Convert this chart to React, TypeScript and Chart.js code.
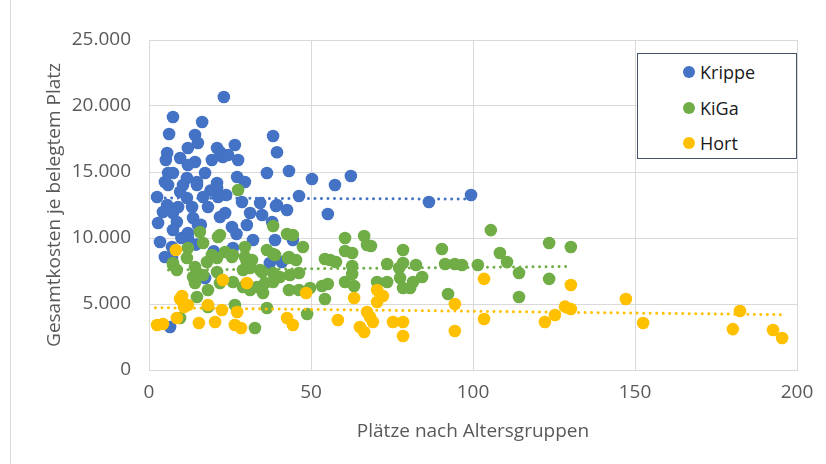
import React, { useEffect, useRef } from "react";
import { Chart, registerables } from "chart.js";

Chart.register(...registerables);

// Krippe [Plätze, Kosten]
const krippeX = [23.1, 7.4, 16.4, 6.2, 14.2, 38.3, 15.1, 12, 21, 26.5, 5.6, 39.5, 21.9, 5.2, 9.6, 22.8, 24.4, 19.4, 27.5, 14.2, 12, 5.9, 7.4, 17.3, 36.4, 43.2, 11.7, 27.2, 62.3, 50.3, 4.9, 14.8, 21, 29.6, 57.4, 5.9, 10.5, 14.8, 21, 2.5, 11.7, 16.7, 21.3, 23.8, 46.3, 99.4, 86.4, 28.7, 34.3, 39.5, 39.2, 5.6, 9, 13.3, 18.2, 42.6, 55.2, 4.3, 7.4, 23.5, 31.2, 34.9, 2.8, 8.6, 13.6, 21.9, 38, 15.1, 25.6, 30.2, 7.4, 12, 12, 3.4, 32.1, 38.9, 44.4, 7.1, 25.9, 4.9, 7.1, 37.3, 41, 17.3, 6.5, 14.5, 20, 9.6, 19, 16, 27, 10];
const krippeY = [20680, 19170, 18790, 17880, 17800, 17730, 17200, 16820, 16820, 17050, 16440, 16500, 16520, 15910, 16060, 16140, 16290, 15910, 15910, 15760, 15530, 14920, 14920, 14920, 14920, 15080, 14550, 14620, 14700, 14470, 14240, 14240, 14170, 14240, 14020, 14020, 14020, 14020, 13800, 13110, 13030, 13110, 13110, 13260, 13180, 13260, 12730, 12730, 12650, 12500, 12420, 12500, 12350, 12350, 12350, 12120, 11820, 11970, 11890, 11890, 11890, 11740, 11140, 11210, 11520, 11590, 11210, 10990, 10830, 10990, 10610, 10380, 10000, 9700, 9850, 9850, 9850, 9320, 9240, 8560, 8480, 8110, 8180, 6970, 3260, 9500, 9000, 13500, 13600, 11000, 10300, 10000];

// KiGa
const kigaX = [27.5, 38.3, 42.6, 44.4, 60.5, 66.4, 105.5, 15.7, 21.3, 21.9, 16.7, 67.3, 68.5, 47.5, 29.6, 12, 123.5, 130.2, 90.4, 78.4, 36.4, 60.5, 23.5, 108.3, 62.7, 38.3, 25.9, 19.4, 38.9, 43.2, 29.6, 25.6, 11.7, 21, 42.9, 54.3, 45.4, 55.9, 31.8, 110.5, 57.7, 30.2, 17.9, 78.4, 7.4, 91.4, 94.4, 73.5, 7.4, 96.6, 101.5, 82.4, 62.7, 14.2, 77.2, 31.2, 8.6, 29, 34.3, 34.9, 21, 114.2, 38.3, 46.3, 62.7, 16.7, 43.5, 40.4, 84.3, 13.6, 77.5, 123.5, 81.5, 38.3, 60.5, 70.4, 73.5, 25.9, 14.2, 21.9, 35.8, 55.2, 53.4, 63.3, 29, 33.3, 80.6, 78.4, 49.7, 43.2, 46.3, 18.2, 31.2, 35.2, 92.3, 114.2, 14.8, 54.3, 26.5, 18.2, 36.4, 48.8, 9.6, 32.7];
const kigaY = [13640, 10910, 10300, 10230, 10000, 10150, 10600, 10450, 10080, 10230, 9620, 9470, 9390, 9320, 9320, 9240, 9620, 9320, 9170, 9090, 9090, 9020, 8940, 8860, 8860, 8790, 8710, 8710, 8710, 8560, 8560, 8560, 8480, 8480, 8480, 8410, 8330, 8330, 8330, 8180, 8180, 8180, 8180, 8110, 8110, 8030, 8030, 8030, 7950, 7950, 7950, 7950, 7880, 7800, 7730, 7730, 7580, 7580, 7580, 7420, 7420, 7350, 7350, 7350, 7270, 7200, 7200, 7050, 7050, 7050, 6970, 6900, 6670, 6670, 6670, 6670, 6670, 6670, 6590, 6590, 6590, 6520, 6360, 6360, 6290, 6290, 6210, 6210, 6210, 6060, 6060, 6060, 6060, 5830, 5760, 5530, 5530, 5380, 4920, 4770, 4700, 4240, 3940, 3180];

// Hort
const hortX = [8.3, 22.8, 30.2, 103.4, 130.2, 70.4, 48.5, 10.2, 72.2, 63.3, 9.6, 147.2, 70.4, 94.4, 12, 18.2, 128.4, 10.8, 130.2, 22.5, 27.2, 67.3, 182.4, 125.3, 68.2, 8.6, 42.6, 103.4, 58.3, 69.1, 75.3, 78.4, 122.2, 20.4, 15.4, 152.5, 4.3, 2.5, 26.5, 44.4, 65.1, 28.4, 180.2, 192.6, 94.4, 66.4, 78.4, 195.4];
const hortY = [9090, 6820, 6590, 6900, 6440, 6060, 5830, 5610, 5610, 5450, 5380, 5380, 5150, 5000, 4920, 4920, 4800, 4770, 4620, 4550, 4390, 4390, 4470, 4170, 4020, 3940, 3940, 3860, 3790, 3640, 3640, 3640, 3640, 3640, 3560, 3560, 3490, 3410, 3410, 3410, 3260, 3180, 3100, 3030, 2950, 2880, 2580, 2420];

// Trendlines: [x start, x end], [y start, y end]
const krippeTrendX = [1, 99.4];
const krippeTrendY = [13030, 12950];
const kigaTrendX = [6, 130.2];
const kigaTrendY = [7580, 7840];
const hortTrendX = [2, 195.4];
const hortTrendY = [4720, 4190];

const xTicks = [0, 50, 100, 150, 200];
const yTicks = [0, 5000, 10000, 15000, 20000, 25000];

const seriesNames = ["Krippe", "KiGa", "Hort"];
const colors = ["#4472C4", "#70AD47", "#FFC000"];

const pts = (xs: number[], ys: number[]) => xs.map((x, i) => ({ x, y: ys[i] }));

const fmt = (v: number) => {
  const s = Math.round(v).toString();
  return s.replace(/\B(?=(\d{3})+(?!\d))/g, ".");
};

const FONT = "'Open Sans', 'Noto Sans', sans-serif";
const FS = 19;

export default function App() {
  const ref = useRef<HTMLCanvasElement | null>(null);

  useEffect(() => {
    if (!ref.current) return;
    const scatterDs = (label: string, data: any[], color: string, order: number) => ({
      type: "scatter" as const,
      label,
      data,
      backgroundColor: color,
      borderColor: color,
      borderWidth: 0,
      pointRadius: 6.3,
      pointHoverRadius: 6.3,
      order,
    });
    const trendDs = (label: string, data: any[], color: string, order: number) => ({
      type: "line" as const,
      label,
      data,
      borderColor: color,
      backgroundColor: color,
      borderWidth: 3,
      borderDash: [0.01, 6.5],
      borderCapStyle: "round" as const,
      pointRadius: 0,
      fill: false,
      tension: 0,
      order,
    });
    const chart = new Chart(ref.current, {
      type: "scatter",
      data: {
        datasets: [
          scatterDs(seriesNames[0], pts(krippeX, krippeY), colors[0], 6),
          scatterDs(seriesNames[1], pts(kigaX, kigaY), colors[1], 5),
          scatterDs(seriesNames[2], pts(hortX, hortY), colors[2], 4),
          trendDs("Trend Krippe", pts(krippeTrendX, krippeTrendY), colors[0], 3),
          trendDs("Trend KiGa", pts(kigaTrendX, kigaTrendY), colors[1], 2),
          trendDs("Trend Hort", pts(hortTrendX, hortTrendY), colors[2], 1),
        ] as any,
      },
      options: {
        responsive: false,
        animation: false,
        events: [],
        layout: { padding: { left: 43, right: 29, top: 40, bottom: 21 } },
        plugins: { legend: { display: false }, tooltip: { enabled: false } },
        scales: {
          x: {
            type: "linear",
            min: xTicks[0],
            max: xTicks[xTicks.length - 1],
            afterBuildTicks: (s: any) => {
              s.ticks = xTicks.map((v) => ({ value: v }));
            },
            afterFit: (s: any) => {
              s.height = 73;
            },
            grid: { color: "#D9D9D9", lineWidth: 1, drawTicks: false },
            border: { color: "#D9D9D9" },
            ticks: { color: "#595959", font: { family: FONT, size: FS }, padding: 11 },
            title: {
              display: true,
              text: "Plätze nach Altersgruppen",
              color: "#595959",
              font: { family: FONT, size: FS, weight: "normal" },
              padding: 0,
            },
          },
          y: {
            type: "linear",
            min: yTicks[0],
            max: yTicks[yTicks.length - 1],
            afterBuildTicks: (s: any) => {
              s.ticks = yTicks.map((v) => ({ value: v }));
            },
            afterFit: (s: any) => {
              s.width = 106;
            },
            grid: { color: "#D9D9D9", lineWidth: 1, drawTicks: false },
            border: { color: "#D9D9D9" },
            ticks: {
              color: "#595959",
              font: { family: FONT, size: FS },
              padding: 18,
              callback: (v: any) => fmt(Number(v)),
            },
            title: {
              display: true,
              text: "Gesamtkosten je belegtem Platz",
              color: "#595959",
              font: { family: FONT, size: FS, weight: "normal" },
              padding: 0,
            },
          },
        },
      },
    });
    return () => chart.destroy();
  }, []);

  return (
    <div style={{ position: "fixed", left: 0, top: 0, width: 826, height: 464, background: "#fff" }}>
      <div style={{ position: "absolute", left: 10, top: 0, width: 1, height: 464, background: "#D9D9D9" }} />
      <canvas ref={ref} width={826} height={464} style={{ position: "absolute", left: 0, top: 0, width: 826, height: 464 }} />
      <div
        style={{
          position: "absolute",
          left: 637,
          top: 53,
          width: 158,
          height: 104,
          border: "1.5px solid #44546A",
          background: "#fff",
          fontFamily: FONT,
          fontSize: 18,
          color: "#1a1a1a",
        }}
      >
        {seriesNames.map((n, i) => (
          <div
            key={n}
            style={{ position: "absolute", left: 45, top: 7 + i * 35.5, height: 22, display: "flex", alignItems: "center" }}
          >
            <span
              style={{
                display: "inline-block",
                width: 12,
                height: 12,
                borderRadius: 6,
                background: colors[i],
                marginRight: 5,
              }}
            />
            <span style={{ lineHeight: "22px" }}>{n}</span>
          </div>
        ))}
      </div>
    </div>
  );
}
